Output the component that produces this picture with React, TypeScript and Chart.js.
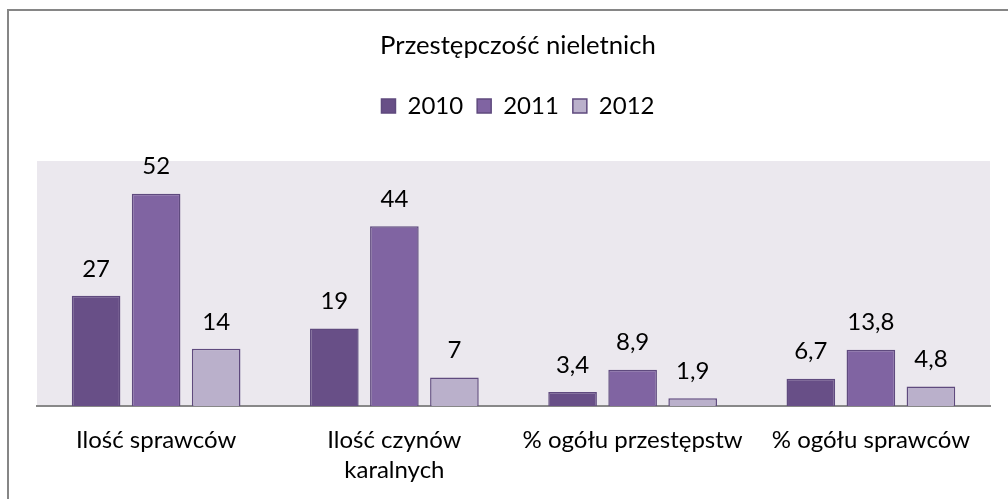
import React, { useEffect, useRef } from "react";
import { Chart, registerables } from "chart.js";

Chart.register(...registerables);

const categories: (string | string[])[] = [
  "Ilość sprawców",
  ["Ilość czynów", "karalnych"],
  "% ogółu przestępstw",
  "% ogółu sprawców",
];
const years = ["2010", "2011", "2012"];
const values2010 = [27, 19, 3.4, 6.7];
const values2011 = [52, 44, 8.9, 13.8];
const values2012 = [14, 7, 1.9, 4.8];
const yMax = 60;

const FONT = "Lato";

const bgPlugin = {
  id: "plotBg",
  beforeDraw(chart: any) {
    const { ctx, chartArea } = chart;
    ctx.save();
    ctx.fillStyle = "#EBE8EE";
    ctx.fillRect(chartArea.left, chartArea.top, chartArea.right - chartArea.left, chartArea.bottom - chartArea.top);
    ctx.restore();
  },
};

const labelPlugin = {
  id: "valueLabels",
  afterDatasetsDraw(chart: any) {
    const { ctx } = chart;
    ctx.save();
    ctx.font = `24px ${FONT}`;
    ctx.fillStyle = "#000";
    ctx.textAlign = "center";
    ctx.textBaseline = "middle";
    chart.data.datasets.forEach((ds: any, i: number) => {
      const meta = chart.getDatasetMeta(i);
      meta.data.forEach((bar: any, j: number) => {
        const v = ds.data[j];
        ctx.fillText(String(v).replace(".", ","), bar.x, bar.y - 27);
      });
    });
    ctx.restore();
  },
};

export default function App() {
  const ref = useRef<HTMLCanvasElement>(null);
  useEffect(() => {
    document.body.style.margin = "0";
    const border = "#5F4A7E";
    const chart = new Chart(ref.current!, {
      type: "bar",
      data: {
        labels: categories,
        datasets: [
          { label: years[0], data: values2010, backgroundColor: "#684F87", borderColor: border, borderWidth: 1.5 },
          { label: years[1], data: values2011, backgroundColor: "#8064A2", borderColor: border, borderWidth: 1.5 },
          { label: years[2], data: values2012, backgroundColor: "#BAB0CB", borderColor: border, borderWidth: 1.5 },
        ],
      },
      options: {
        animation: false,
        responsive: false,
        maintainAspectRatio: false,
        layout: { padding: { left: 0, right: 0, top: 0, bottom: 0 } },
        datasets: { bar: { categoryPercentage: 0.756, barPercentage: 0.81 } },
        plugins: {
          title: {
            display: true,
            text: "Przestępczość nieletnich",
            color: "#000",
            font: { family: FONT, size: 25.7, weight: "normal", lineHeight: 1.2 },
            padding: { top: 30, bottom: 19.2 },
          },
          subtitle: {
            display: true,
            text: "",
            weight: 500,
            font: { size: 1, lineHeight: 1 },
            padding: { top: 0, bottom: 32 },
          } as any,
          legend: {
            display: true,
            labels: {
              color: "#000",
              font: { family: FONT, size: 24 },
              boxWidth: 14,
              boxHeight: 14,
              padding: 14,
            },
          },
          tooltip: { enabled: false },
        },
        scales: {
          x: {
            grid: { display: false, drawTicks: false },
            border: { display: true, color: "#888888", width: 2 },
            ticks: { color: "#000", font: { family: FONT, size: 24, lineHeight: 1.25 }, padding: 19, maxRotation: 0, autoSkip: false },
            afterFit: (s: any) => { s.height = 93; },
          },
          y: {
            position: "left",
            min: 0,
            max: yMax,
            grid: { display: false, drawTicks: false },
            border: { display: false },
            ticks: { display: false },
            afterFit: (s: any) => { s.width = 37; },
          },
          y2: {
            position: "right",
            min: 0,
            max: yMax,
            grid: { display: false, drawTicks: false },
            border: { display: false },
            ticks: { display: false },
            afterFit: (s: any) => { s.width = 46; },
          },
        },
      },
      plugins: [bgPlugin, labelPlugin],
    });
    return () => chart.destroy();
  }, []);
  return (
    <div style={{ position: "relative", width: 1008, height: 499, overflow: "hidden", background: "#fff" }}>
      <canvas ref={ref} width={1036} height={499} style={{ position: "absolute", left: 0, top: 0, width: 1036, height: 499 }} />
      <div
        style={{
          position: "absolute",
          left: 7,
          top: 9,
          width: 1100,
          height: 600,
          borderLeft: "2px solid #868686",
          borderTop: "2px solid #868686",
          pointerEvents: "none",
        }}
      />
    </div>
  );
}
